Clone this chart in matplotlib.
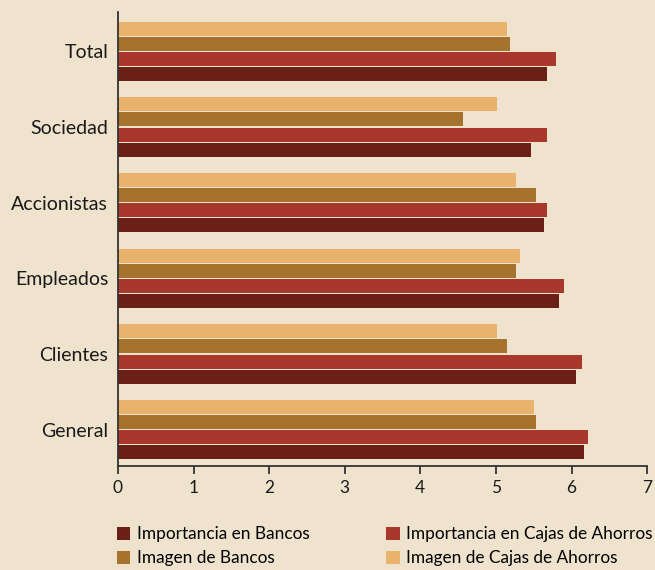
import numpy as np
import matplotlib
matplotlib.use('Agg')
import matplotlib.pyplot as plt

plt.rcParams['font.family'] = ['Lato', 'DejaVu Sans']

groups = ['General', 'Clientes', 'Empleados', 'Accionistas', 'Sociedad', 'Total']

# values listed bottom group first (General) to top (Total)
imp_bancos = [6.17, 6.06, 5.84, 5.63, 5.46, 5.68]
imp_cajas = [6.22, 6.14, 5.90, 5.68, 5.68, 5.80]
img_bancos = [5.53, 5.15, 5.27, 5.53, 4.56, 5.19]
img_cajas = [5.51, 5.02, 5.32, 5.27, 5.02, 5.15]

series = [
    ('Importancia en Bancos', imp_bancos, '#6a1f17'),
    ('Imagen de Bancos', img_bancos, '#a6732f'),
    ('Importancia en Cajas de Ahorros', imp_cajas, '#a8372c'),
    ('Imagen de Cajas de Ahorros', img_cajas, '#e9b36d'),
]
# vertical offset of each series inside a group (bottom to top)
offsets = {'Importancia en Bancos': -0.3, 'Importancia en Cajas de Ahorros': -0.1,
           'Imagen de Bancos': 0.1, 'Imagen de Cajas de Ahorros': 0.3}

bg = '#efe3cd'
fig = plt.figure(figsize=(6.55, 5.70), dpi=100, facecolor=bg)
ax = fig.add_axes([0.180, 0.1825, 0.808, 0.7965])
ax.set_facecolor(bg)

y = np.arange(len(groups))
handles = []
for name, vals, col in series:
    h = ax.barh(y + offsets[name], vals, height=0.185, color=col, label=name)
    handles.append(h)

ax.set_xlim(0, 7)
ax.set_ylim(-0.48, 5.52)
ax.set_xticks(range(8))
ax.set_yticks(y)
ax.set_yticklabels(groups, fontsize=14, color='#1a1a1a')
ax.tick_params(axis='y', length=0, pad=7)
ax.tick_params(axis='x', length=6, width=1.3, color='#333333', labelsize=12.5,
               labelcolor='#1a1a1a', pad=4)
for s in ['top', 'right']:
    ax.spines[s].set_visible(False)
for s in ['left', 'bottom']:
    ax.spines[s].set_color('#333333')
    ax.spines[s].set_linewidth(1.3)

leg = fig.legend(handles=handles, loc='lower left', bbox_to_anchor=(0.155, -0.021),
                 ncol=2, frameon=False, fontsize=12.4, handlelength=0.78,
                 handleheight=0.78, handletextpad=0.38, columnspacing=4.45,
                 labelspacing=0.47)

fig.savefig('out.png', dpi=100, facecolor=bg)
